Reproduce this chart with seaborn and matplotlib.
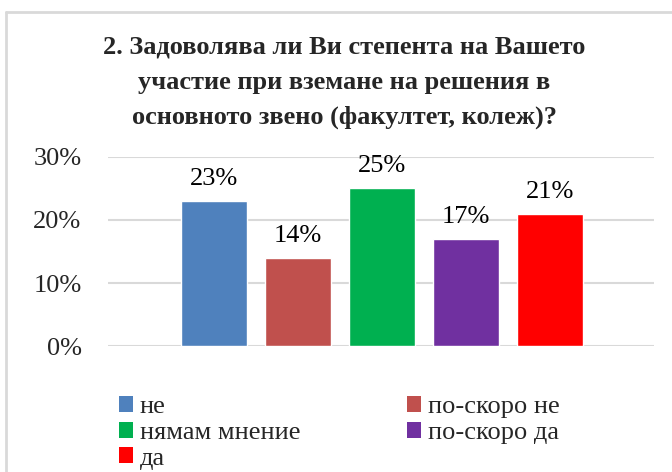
import numpy as np
import pandas as pd
import matplotlib
matplotlib.use("Agg")
import matplotlib.pyplot as plt
from matplotlib.lines import Line2D
from matplotlib.patches import Patch
import seaborn as sns

# data
answers = ["не", "по-скоро не", "нямам мнение", "по-скоро да", "да"]
shares = [0.23, 0.14, 0.25, 0.17, 0.21]
colors = ["#4F81BD", "#C0504D", "#00B050", "#7030A0", "#FF0000"]
yticks = [0, 0.1, 0.2, 0.3]
title = ("2. Задоволява ли Ви степента на Вашето\n"
         "участие при вземане на решения в\n"
         "основното звено (факултет, колеж)?")

df = pd.DataFrame({"answer": answers, "share": shares})

sns.set_style("white")
plt.rcParams["font.family"] = ["Liberation Serif", "DejaVu Serif"]

fig = plt.figure(figsize=(6.72, 4.72), dpi=100)
ax = fig.add_axes([0.1607, 0.2669, 0.8125, 0.4005])

sns.barplot(data=df, x="answer", y="share", hue="answer", palette=colors,
            order=answers, hue_order=answers, width=0.79, dodge=False,
            legend=False, ax=ax, saturation=1)

for i, v in enumerate(shares):
    ax.annotate(f"{round(v*100)}%", (i, v), xytext=(0, 8), textcoords="offset points",
                ha="center", va="bottom", fontsize=19, color="#000000")

ax.set_xlim(-1.26, 5.24)
ax.set_ylim(0, 0.3)
ax.set_yticks(yticks)
ax.set_yticklabels([f"{int(t*100)}%" for t in yticks], fontsize=19)
ax.tick_params(axis="y", length=0, pad=19)
ax.set_xticks([])
ax.set_xlabel("")
ax.set_ylabel("")
ax.grid(axis="y", color="#d9d9d9", linewidth=1.5)
ax.set_axisbelow(True)
for s in ax.spines.values():
    s.set_visible(False)

fig.text(0.512, 0.925, title, ha="center", va="top", fontsize=19, fontweight="bold",
         linespacing=1.68)

# legend fills row by row in the original: reorder for column-major filling
order = [0, 2, 4, 1, 3]
handles = [Patch(facecolor=colors[i], edgecolor="none") for i in order]
labels = [answers[i] for i in order]
fig.legend(handles, labels, loc="upper left", bbox_to_anchor=(0.1765, 0.161),
           ncol=2, frameon=False, fontsize=19, handlelength=0.55, handleheight=0.55,
           handletextpad=0.25, columnspacing=4.03, labelspacing=0.13, borderaxespad=0,
           borderpad=0)

# chart frame (only top and left edges visible)
fig.add_artist(Line2D([0.009, 0.009], [0, 0.975], color="#d9d9d9", lw=2))
fig.add_artist(Line2D([0.009, 1], [0.975, 0.975], color="#d9d9d9", lw=2))

fig.savefig("out.png", dpi=100)
